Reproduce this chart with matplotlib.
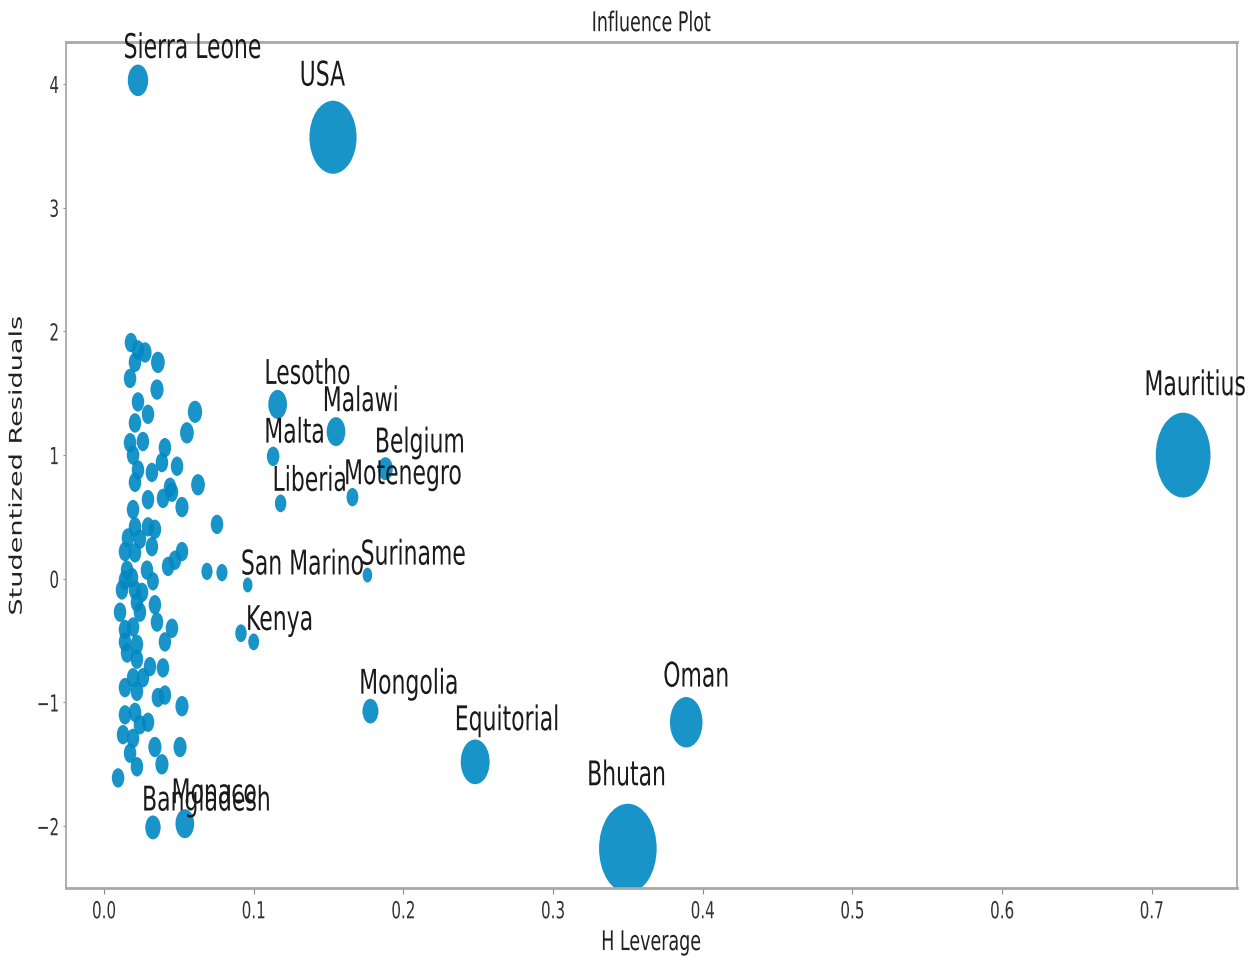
import numpy as np
import matplotlib
matplotlib.use("Agg")
import matplotlib.pyplot as plt
from matplotlib.patheffects import AbstractPathEffect
from matplotlib.transforms import Affine2D
from matplotlib.path import Path

# ---- labelled countries (leverage, studentized residual, cook's distance) ----
names = ["Sierra Leone", "USA", "Lesotho", "Malawi", "Malta", "Belgium",
         "Liberia", "Motenegro", "Mauritius", "San Marino", "Suriname",
         "Kenya", "Mongolia", "Equitorial", "Oman", "Bhutan",
         "Bangladesh", "Monaco"]
lev = [0.0227, 0.153, 0.116, 0.155, 0.113, 0.188,
       0.118, 0.166, 0.721, 0.096, 0.176,
       0.100, 0.178, 0.248, 0.389, 0.350,
       0.0327, 0.054]
resid = [4.03, 3.57, 1.41, 1.19, 0.99, 0.89,
         0.61, 0.66, 1.00, -0.05, 0.03,
         -0.51, -1.07, -1.48, -1.16, -2.18,
         -2.01, -1.98]
cooks = [0.10, 0.66, 0.08, 0.08, 0.02, 0.04,
         0.012, 0.015, 0.90, 0.0, 0.0,
         0.008, 0.05, 0.23, 0.30, 1.00,
         0.045, 0.08]

# ---- the rest of the observations ----
other_lev = [0.018, 0.0227, 0.0274, 0.0207, 0.036, 0.0174, 0.0354, 0.0227,
             0.0294, 0.0608, 0.0207, 0.0554, 0.0174, 0.026, 0.0407, 0.0194,
             0.0387, 0.0488, 0.0227, 0.032, 0.0207, 0.0441, 0.0628, 0.0294,
             0.0394, 0.0454, 0.0521, 0.0194, 0.0755, 0.0207, 0.0294, 0.034,
             0.016, 0.024, 0.032, 0.014, 0.0207, 0.0521, 0.0474, 0.0428,
             0.0287, 0.0327, 0.0154, 0.014, 0.0187, 0.0688, 0.0788, 0.012,
             0.0207, 0.0254, 0.022, 0.034, 0.0107, 0.024, 0.0354, 0.0454,
             0.014, 0.0194, 0.0407, 0.014, 0.022, 0.0154, 0.022, 0.0307,
             0.0394, 0.0194, 0.026, 0.014, 0.022, 0.036, 0.0407, 0.0521,
             0.014, 0.0207, 0.0294, 0.024, 0.0127, 0.0194, 0.034, 0.0508,
             0.0174, 0.022, 0.0387, 0.0094, 0.0915]
other_resid = [1.91, 1.85, 1.83, 1.75, 1.75, 1.62, 1.53, 1.43,
               1.33, 1.35, 1.26, 1.18, 1.10, 1.11, 1.06, 1.00,
               0.94, 0.91, 0.88, 0.86, 0.78, 0.74, 0.76, 0.64,
               0.65, 0.70, 0.58, 0.56, 0.44, 0.42, 0.42, 0.40,
               0.33, 0.32, 0.26, 0.22, 0.21, 0.22, 0.15, 0.10,
               0.07, -0.02, 0.07, -0.01, 0.01, 0.06, 0.05, -0.09,
               -0.09, -0.11, -0.19, -0.21, -0.27, -0.27, -0.35, -0.40,
               -0.41, -0.39, -0.51, -0.51, -0.53, -0.60, -0.65, -0.71,
               -0.72, -0.80, -0.80, -0.88, -0.91, -0.96, -0.94, -1.03,
               -1.10, -1.08, -1.16, -1.18, -1.26, -1.29, -1.36, -1.36,
               -1.41, -1.52, -1.50, -1.61, -0.44]
other_cooks = [0.02, 0.02, 0.025, 0.02, 0.03, 0.02, 0.025, 0.02,
               0.02, 0.035, 0.02, 0.03, 0.02, 0.02, 0.02, 0.02,
               0.02, 0.02, 0.02, 0.02, 0.02, 0.02, 0.03, 0.02,
               0.02, 0.02, 0.025, 0.02, 0.02, 0.02, 0.02, 0.02,
               0.02, 0.02, 0.02, 0.02, 0.02, 0.02, 0.02, 0.02,
               0.02, 0.015, 0.02, 0.02, 0.02, 0.01, 0.01, 0.02,
               0.02, 0.02, 0.02, 0.02, 0.02, 0.02, 0.02, 0.02,
               0.02, 0.02, 0.02, 0.02, 0.02, 0.02, 0.02, 0.02,
               0.02, 0.02, 0.02, 0.02, 0.02, 0.02, 0.02, 0.025,
               0.02, 0.02, 0.02, 0.02, 0.02, 0.02, 0.025, 0.025,
               0.02, 0.02, 0.025, 0.02, 0.012]

# ==========================
# look of the screenshot: it was stretched vertically
# ==========================
STRETCH = 1.55       # vertical stretch of the original picture
PX_PER_PT = 1.2      # horizontal px per point of the original figure
DOT_COLOR = "#0088c2"


class Stretch(AbstractPathEffect):
    """stretch a drawn path vertically around its centre (or baseline)"""

    def __init__(self, sy=STRETCH, anchor="center"):
        super().__init__()
        self.sy = sy
        self.anchor = anchor

    def draw_path(self, renderer, gc, tpath, affine, rgbFace=None):
        if self.anchor == "baseline":
            cy = affine.get_matrix()[1, 2]
        else:
            v = tpath.vertices
            if tpath.codes is not None:
                v = v[tpath.codes != Path.CLOSEPOLY]
            v = affine.transform(v)
            cy = 0.5 * (v[:, 1].min() + v[:, 1].max()) if len(v) else 0.0
        st = Affine2D().translate(0, -cy).scale(1, self.sy).translate(0, cy)
        renderer.draw_path(gc, tpath, affine + st, rgbFace)


x = np.array(lev + other_lev)
y = np.array(resid + other_resid)
cd = np.array(cooks + other_cooks)

# bubble area like statsmodels influence_plot (size=48)
psize = (cd - cd.min()) * (48 ** 2 - 8 ** 2) / np.ptp(cd) + 8 ** 2
diam = np.sqrt(psize)                    # diameter in points of original fig
scale_pt = PX_PER_PT * 72 / 100          # original pt -> our pt (horizontal)

fig = plt.figure(figsize=(12.57, 9.6), dpi=100)
ax = fig.add_axes([0.0525, 0.075, 0.9316, 0.88125])

sc = ax.scatter(x, y, s=(diam * scale_pt) ** 2, color=DOT_COLOR, alpha=0.9,
                linewidths=0)
sc.set_path_effects([Stretch()])

for i, name in enumerate(names):
    off = diam[i] / np.sqrt(2) * scale_pt
    ax.annotate(name, xy=(lev[i], resid[i]), xytext=(-off, off * STRETCH),
                textcoords="offset points", fontsize=15.8, color="#1a1a1a",
                path_effects=[Stretch(anchor="baseline")])

ax.set_xlim(-0.0254, 0.757)
ax.set_ylim(-2.50, 4.34)
ax.set_xticks(np.arange(0, 0.71, 0.1))
ax.set_yticks([-2, -1, 0, 1, 2, 3, 4])

ax.set_title("Influence Plot", fontsize=12.6, pad=10.4, color="#222222")
ax.set_xlabel("H Leverage", fontsize=12.6, labelpad=11, color="#222222")
ax.set_ylabel("Studentized Residuals", fontsize=12.6, labelpad=8,
              color="#222222")

ax.tick_params(axis="x", length=4, pad=7, color="#888888",
               labelsize=10.9, labelcolor="#333333")
ax.tick_params(axis="y", length=2.5, pad=2.5, color="#888888",
               labelsize=10.9, labelcolor="#333333")

for side, sp in ax.spines.items():
    sp.set_color("#a8a8a8")
    sp.set_linewidth(2.0 if side in ("top", "bottom") else 1.3)

for t in ax.get_xticklabels() + ax.get_yticklabels():
    t.set_path_effects([Stretch()])
for t in (ax.title, ax.xaxis.label, ax.yaxis.label):
    t.set_path_effects([Stretch()])

fig.savefig("out.png", dpi=100)
